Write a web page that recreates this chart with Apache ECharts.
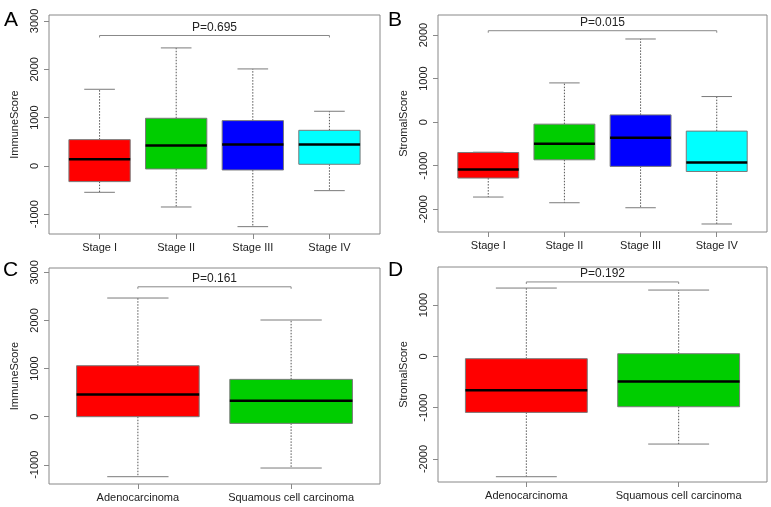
<!DOCTYPE html>
<html><head><meta charset="utf-8">
<script src="https://cdn.jsdelivr.net/npm/echarts@6/dist/echarts.min.js"></script>
<style>html,body{margin:0;padding:0;background:#fff}#c{width:771px;height:507px}</style>
</head><body><div id="c"></div>
<script>
// ---- data ----
const stageCats = ['Stage I', 'Stage II', 'Stage III', 'Stage IV'];
const histCats = ['Adenocarcinoma', 'Squamous cell carcinoma'];
// each box: [min whisker, Q1, median, Q3, max whisker]
const immuneStage = [[-545, -324, 138, 545, 1587], [-849, -62, 421, 987, 2443], [-1256, -83, 442, 938, 2008], [-511, 35, 442, 738, 1132]];
const stromalStage = [[-1720, -1284, -1087, -697, -690], [-1851, -865, -498, -46, 901], [-1966, -1016, -360, 167, 1910], [-2339, -1133, -926, -206, 588]];
const immuneHist = [[-1247, 0, 464, 1060, 2467], [-1067, -139, 333, 776, 2010]];
const stromalHist = [[-2344, -1091, -662, -45, 1331], [-1708, -981, -487, 52, 1292]];
const pValues = ['P=0.695', 'P=0.015', 'P=0.161', 'P=0.192'];
const bracketY = [2700, 2100, 2700, 1450];
const yTicksImmune = [-1000, 0, 1000, 2000, 3000];
const yTicksStromalStage = [-2000, -1000, 0, 1000, 2000];
const yTicksStromalHist = [-2000, -1000, 0, 1000];
const panelLetters = ['A', 'B', 'C', 'D'];
const yNames = ['ImmuneScore', 'StromalScore', 'ImmuneScore', 'StromalScore'];

// ---- styles / layout ----
const FONT = 'Liberation Sans';
const stageColors = ['#FF0000', '#00CD00', '#0000FF', '#00FFFF'];
const histColors = ['#FF0000', '#00CD00'];
const GRAY = '#7a7a7a';
const TEXT = '#222';

const panels = [
  { cats: stageCats, boxes: immuneStage, colors: stageColors, yTicks: yTicksImmune, yMin: -1408, yMax: 3124,
    grid: { left: 49, top: 15, width: 331, height: 219 }, letter: { left: 4, top: 10 } },
  { cats: stageCats, boxes: stromalStage, colors: stageColors, yTicks: yTicksStromalStage, yMin: -2523, yMax: 2461,
    grid: { left: 438, top: 15, width: 329, height: 217 }, letter: { left: 388, top: 10 } },
  { cats: histCats, boxes: immuneHist, colors: histColors, yTicks: yTicksImmune, yMin: -1399, yMax: 3091,
    grid: { left: 49, top: 268, width: 331, height: 216 }, letter: { left: 3, top: 260 } },
  { cats: histCats, boxes: stromalHist, colors: histColors, yTicks: yTicksStromalHist, yMin: -2447, yMax: 1741,
    grid: { left: 438, top: 267, width: 329, height: 215 }, letter: { left: 388, top: 260 } }
];

function boxRender(colors) {
  return function (params, api) {
    const x = api.value(0);
    const v = [1, 2, 3, 4, 5].map(i => api.value(i));
    const pMin = api.coord([x, v[0]]), pQ1 = api.coord([x, v[1]]), pMed = api.coord([x, v[2]]),
      pQ3 = api.coord([x, v[3]]), pMax = api.coord([x, v[4]]);
    const bw = api.size([0.8, 0])[0], cw = api.size([0.4, 0])[0];
    const cx = pMed[0];
    const dash = { stroke: '#555', lineWidth: 1, lineDash: [1.5, 1.5] };
    const solid = { stroke: GRAY, lineWidth: 1 };
    return {
      type: 'group', children: [
        { type: 'line', shape: { x1: cx, y1: pQ3[1], x2: cx, y2: pMax[1] }, style: dash },
        { type: 'line', shape: { x1: cx, y1: pQ1[1], x2: cx, y2: pMin[1] }, style: dash },
        { type: 'line', shape: { x1: cx - cw / 2, y1: pMax[1], x2: cx + cw / 2, y2: pMax[1] }, style: solid },
        { type: 'line', shape: { x1: cx - cw / 2, y1: pMin[1], x2: cx + cw / 2, y2: pMin[1] }, style: solid },
        { type: 'rect', shape: { x: cx - bw / 2, y: pQ3[1], width: bw, height: pQ1[1] - pQ3[1] },
          style: { fill: colors[params.dataIndex], stroke: GRAY, lineWidth: 1 } },
        { type: 'line', shape: { x1: cx - bw / 2, y1: pMed[1], x2: cx + bw / 2, y2: pMed[1] },
          style: { stroke: '#000', lineWidth: 2.5 } }
      ]
    };
  };
}

function bracketRender(label) {
  return function (params, api) {
    const a = api.coord([api.value(0), api.value(2)]);
    const b = api.coord([api.value(1), api.value(2)]);
    return {
      type: 'group', children: [
        { type: 'polyline', shape: { points: [[a[0], a[1] + 2], [a[0], a[1]], [b[0], b[1]], [b[0], b[1] + 2]] },
          style: { stroke: '#888', lineWidth: 1, fill: null } },
        { type: 'text', x: (a[0] + b[0]) / 2, y: a[1] - 2,
          style: { text: label, fontSize: 12, fontFamily: FONT, fill: TEXT, align: 'center', verticalAlign: 'bottom' } }
      ]
    };
  };
}

const option = { animation: false, backgroundColor: '#fff', title: [], grid: [], xAxis: [], yAxis: [], series: [] };

panels.forEach((p, k) => {
  const n = p.cats.length;
  const pad = n * 0.08 / 2;
  option.title.push({ text: panelLetters[k], left: p.letter.left, top: p.letter.top, padding: 0,
    textStyle: { fontSize: 21, fontWeight: 'normal', color: '#000', fontFamily: FONT } });
  option.grid.push(Object.assign({ show: true, borderColor: '#888', borderWidth: 1, backgroundColor: 'transparent' }, p.grid));
  const xs = p.cats.map((c, i) => i + 1);
  option.xAxis.push({
    gridIndex: k, type: 'value', min: 0.5 - pad, max: n + 0.5 + pad,
    axisLine: { show: false, onZero: false }, splitLine: { show: false },
    axisTick: { show: true, customValues: xs, length: 5, lineStyle: { color: '#888' } },
    axisLabel: { customValues: xs, formatter: v => p.cats[Math.round(v) - 1], fontSize: 11, color: TEXT, fontFamily: FONT, margin: 8 }
  });
  option.yAxis.push({
    gridIndex: k, type: 'value', min: p.yMin, max: p.yMax,
    name: yNames[k], nameLocation: 'middle', nameGap: 29,
    nameTextStyle: { fontSize: 11, color: TEXT, fontFamily: FONT },
    axisLine: { show: false, onZero: false }, splitLine: { show: false },
    axisTick: { show: true, customValues: p.yTicks, length: 5, lineStyle: { color: '#888' } },
    axisLabel: { customValues: p.yTicks, formatter: v => String(Math.round(v)), rotate: 90, fontSize: 11, color: TEXT, fontFamily: FONT, margin: 9 }
  });
  option.series.push({
    type: 'custom', xAxisIndex: k, yAxisIndex: k,
    encode: { x: 0, y: [1, 2, 3, 4, 5] },
    renderItem: boxRender(p.colors),
    data: p.boxes.map((d, i) => [i + 1].concat(d))
  });
  option.series.push({
    type: 'custom', xAxisIndex: k, yAxisIndex: k,
    encode: { x: [0, 1], y: 2 },
    renderItem: bracketRender(pValues[k]),
    data: [[1, n, bracketY[k]]]
  });
});

const chart = echarts.init(document.getElementById('c'), null, { renderer: 'canvas' });
chart.setOption(option);
</script>
</body></html>
